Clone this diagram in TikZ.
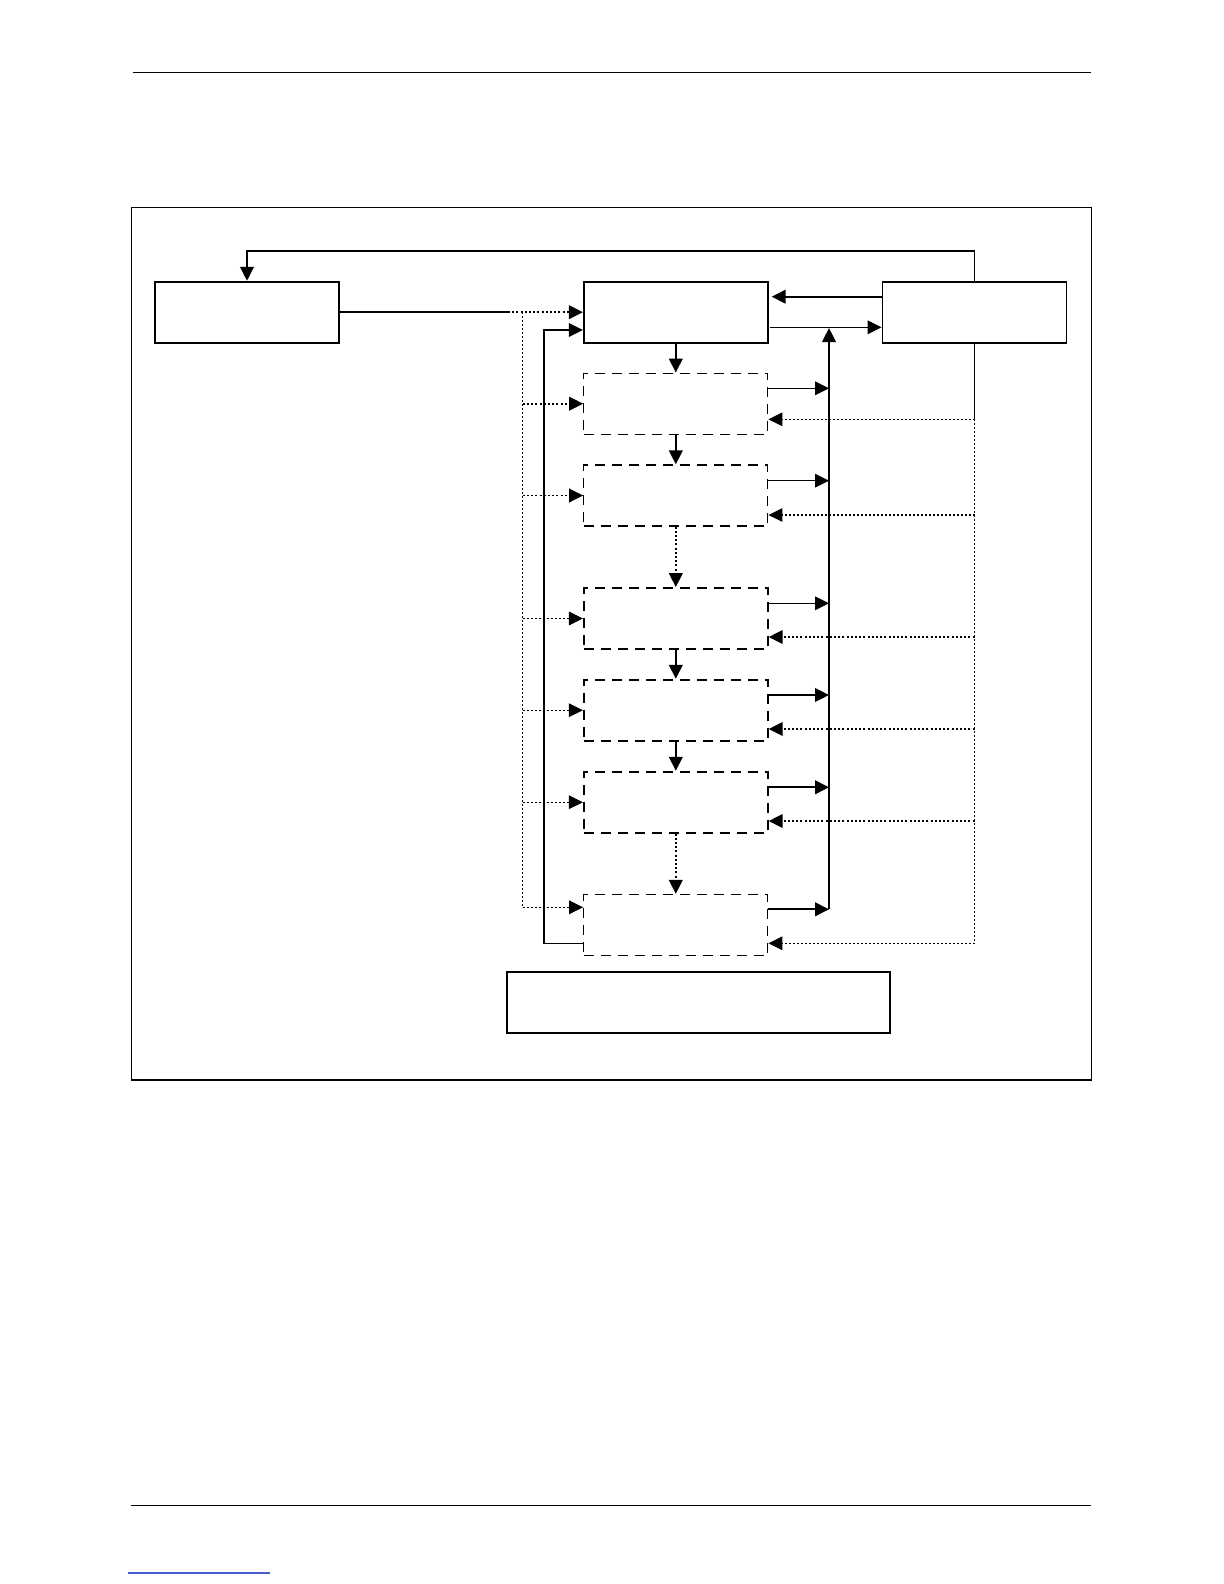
\documentclass[tikz,border=0pt]{standalone}
\usetikzlibrary{arrows.meta,calc}
\definecolor{linkblue}{RGB}{70,90,210}
\begin{document}
\begin{tikzpicture}[x=0.5pt,y=-0.5pt,
  tip/.style={-{Triangle[length=7pt,width=6.8pt]}},
  solidbox/.style={draw,line width=0.9pt,minimum width=92pt,minimum height=30.5pt,inner sep=0pt},
  dbox/.style={draw,line width=0.65pt,dash pattern=on 5pt off 3.5pt,minimum width=92pt,minimum height=30.5pt,inner sep=0pt},
  dboxthick/.style={dbox,line width=0.9pt},
  thinline/.style={line width=0.6pt},
  midline/.style={line width=0.8pt},
  thickline/.style={line width=1.1pt},
  dotthin/.style={line width=0.55pt,dash pattern=on 1pt off 1pt},
  dotthick/.style={line width=0.95pt,dash pattern=on 1pt off 1.1pt}]
\useasboundingbox (0,0) rectangle (1224,1584);
% page rules and frame
\coordinate (h1) at (132.7,72.3); \coordinate (h2) at (1091,72.3);
\draw[line width=0.7pt] (h1) -- (h2);
\coordinate (f1) at (131,1505.5); \coordinate (f2) at (1091,1505.5);
\draw[line width=0.7pt] (f1) -- (f2);
\coordinate (l1) at (128,1573); \coordinate (l2) at (270,1573);
\draw[linkblue,line width=0.6pt] (l1) -- (l2);
\coordinate (fr1) at (131.3,207.3); \coordinate (fr2) at (1091.7,1080);
\draw[line width=0.7pt] (fr1) rectangle (fr2);
% boxes
\node[solidbox] (A) at (247,312.2) {};
\node[solidbox] (B) at (675.8,312.2) {};
\node[solidbox] (C) at (974.5,312.2) {};
\node[dbox] (D1) at (675.8,403.7) {};
\node[dbox] (D2) at (675.8,495.5) {};
\node[dboxthick] (D3) at (675.8,618.5) {};
\node[dboxthick] (D4) at (675.8,710.2) {};
\node[dboxthick] (D5) at (675.8,802.2) {};
\node[dbox] (D6) at (675.8,925) {};
\node[solidbox,minimum width=191.7pt] (E) at (698.3,1002.2) {};
% top feedback loop
\coordinate (top) at (974.5,250.7);
\draw[thinline] (C.north) -- (top);
\draw[thickline,tip] (top) -| (A.north);
% A -> B
\coordinate (j1) at (508,312.2);
\draw[thickline] (A.east) -- (j1);
\draw[dotthick,tip] (j1) -- (B.west);
% left dotted bus
\coordinate (bl1) at (522.7,312.2);
\coordinate (bl2) at (522.7,907.3);
\draw[dotthin] (bl1) -- (bl2);
\draw[dotthick,tip] (bl1 |- D1.west) -- (D1.west);
\draw[dotthick,tip] (bl1 |- D2.west) -- (D2.west);
\draw[dotthin,tip] (bl1 |- D3.west) -- (D3.west);
\draw[dotthin,tip] (bl1 |- D4.west) -- (D4.west);
\draw[dotthin,tip] (bl1 |- D5.west) -- (D5.west);
\draw[dotthin,tip] (bl2) -- (bl2 -| D6.west);
% return line from D6 to B
\coordinate (r1) at ($(D6.west)+(0,18.3)$);
\coordinate (rc) at (544,330);
\draw[midline,tip] (r1) -- (r1 -| rc) -- (rc) -- (rc -| B.west);
% C <-> B
\coordinate (cb) at (771.7,296.7);
\draw[thickline,tip] (cb -| C.west) -- (cb);
\coordinate (bc) at (770,327.3);
\draw[thinline,tip] (bc) -- (bc -| C.west);
% vertical collecting bus
\coordinate (vb) at (829,328);
\coordinate (o1) at ($(D1.east)+(0,-15.4)$);
\coordinate (o2) at ($(D2.east)+(0,-14.8)$);
\coordinate (o3) at ($(D3.east)+(0,-15.2)$);
\coordinate (o4) at ($(D4.east)+(0,-15.2)$);
\coordinate (o5) at ($(D5.east)+(0,-14.9)$);
\coordinate (o6) at ($(D6.east)+(0,-15.7)$);
\draw[thickline,tip] (o6 -| vb) -- (vb);
\draw[thinline,tip] (o1) -- (o1 -| vb);
\draw[thinline,tip] (o2) -- (o2 -| vb);
\draw[thinline,tip] (o3) -- (o3 -| vb);
\draw[thickline,tip] (o4) -- (o4 -| vb);
\draw[thickline,tip] (o5) -- (o5 -| vb);
\draw[thickline,tip] (o6) -- (o6 -| vb);
% right feedback bus
\coordinate (rb) at (974.5,0);
\coordinate (i1) at ($(D1.east)+(0,15.6)$);
\coordinate (i2) at ($(D2.east)+(0,19.5)$);
\coordinate (i3) at ($(D3.east)+(0,18.5)$);
\coordinate (i4) at ($(D4.east)+(0,18.8)$);
\coordinate (i5) at ($(D5.east)+(0,18.8)$);
\coordinate (i6) at ($(D6.east)+(0,18.3)$);
\draw[thinline] (C.south) -- (i1 -| rb);
\draw[dotthin] (i1 -| rb) -- (i6 -| rb);
\draw[dotthin,tip] (i1 -| rb) -- (i1);
\draw[dotthin,tip] (i2 -| rb) -- (i2);
\draw[dotthick,tip] (i3 -| rb) -- (i3);
\draw[dotthick,tip] (i4 -| rb) -- (i4);
\draw[dotthick,tip] (i5 -| rb) -- (i5);
\draw[dotthin,tip] (i6 -| rb) -- (i6);
% vertical chain
\draw[thickline,tip] (B.south) -- (D1.north);
\draw[thickline,tip] (D1.south) -- (D2.north);
\draw[dotthick,tip] (D2.south) -- (D3.north);
\draw[thickline,tip] (D3.south) -- (D4.north);
\draw[thickline,tip] (D4.south) -- (D5.north);
\draw[dotthick,tip] (D5.south) -- (D6.north);
\end{tikzpicture}
\end{document}
